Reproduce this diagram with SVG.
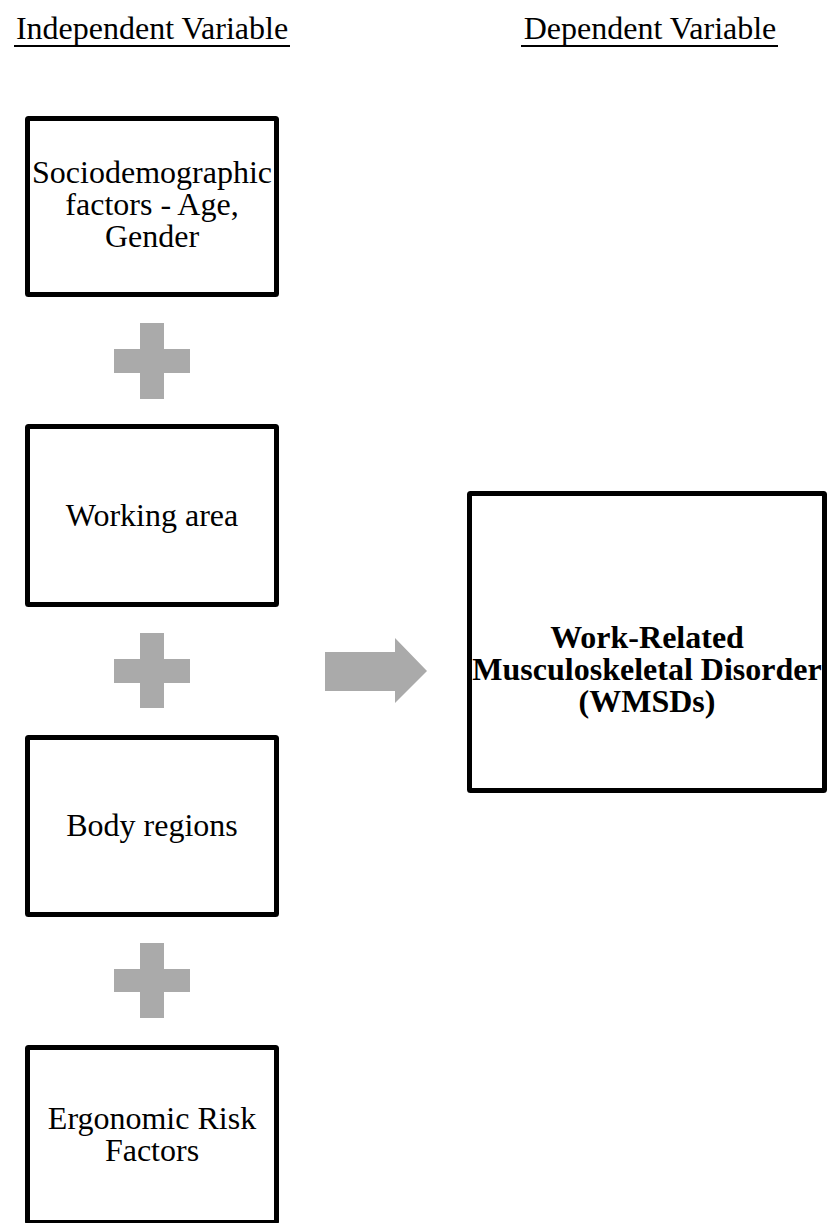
<svg xmlns="http://www.w3.org/2000/svg" width="829" height="1223" viewBox="0 0 829 1223">
<style>
.box{fill:#fff;stroke:#000;stroke-width:5}
.t{font-family:"Liberation Serif","Times New Roman",serif;font-size:32px;fill:#000;text-anchor:middle}
.b{font-weight:bold}
.plus{fill:#AAAAAA}
.ul{stroke:#000;stroke-width:2}
</style>
<rect width="829" height="1223" fill="#fff"/>
<g id="header-independent">
<text class="t" x="152" y="39">Independent Variable</text>
<line class="ul" x1="14" y1="46" x2="290" y2="46"/>
</g>
<g id="header-dependent">
<text class="t" x="650" y="39">Dependent Variable</text>
<line class="ul" x1="521" y1="46" x2="778" y2="46"/>
</g>
<g id="node-socio">
<rect class="box" x="27.5" y="118.5" width="249" height="176" rx="1"/>
<text class="t"><tspan x="152" y="183">Sociodemographic</tspan><tspan x="152" y="215">factors - Age,</tspan><tspan x="152" y="247">Gender</tspan></text>
</g>
<g id="node-working">
<rect class="box" x="27.5" y="426.5" width="249" height="178" rx="1"/>
<text class="t" x="152" y="526">Working area</text>
</g>
<g id="node-body">
<rect class="box" x="27.5" y="737.5" width="249" height="177" rx="1"/>
<text class="t" x="152" y="836">Body regions</text>
</g>
<g id="node-ergo">
<rect class="box" x="27.5" y="1047.5" width="249" height="175" rx="1"/>
<text class="t"><tspan x="152" y="1129">Ergonomic Risk</tspan><tspan x="152" y="1161">Factors</tspan></text>
</g>
<g id="node-wmsd">
<rect class="box" x="469.5" y="493.5" width="355" height="297" rx="1"/>
<text class="t b"><tspan x="647" y="648">Work-Related</tspan><tspan x="647" y="680">Musculoskeletal Disorder</tspan><tspan x="647" y="712">(WMSDs)</tspan></text>
</g>
<g id="connectors">
<path class="plus" d="M140,323H164V349H190V373H164V399H140V373H114V349H140Z"/>
<path class="plus" d="M140,633H164V659H190V683H164V708H140V683H114V659H140Z"/>
<path class="plus" d="M140,943H164V969H190V992H164V1018H140V992H114V969H140Z"/>
<path class="plus" d="M325,652H395V638L427,671L395,703V691H325Z"/>
</g>
</svg>
